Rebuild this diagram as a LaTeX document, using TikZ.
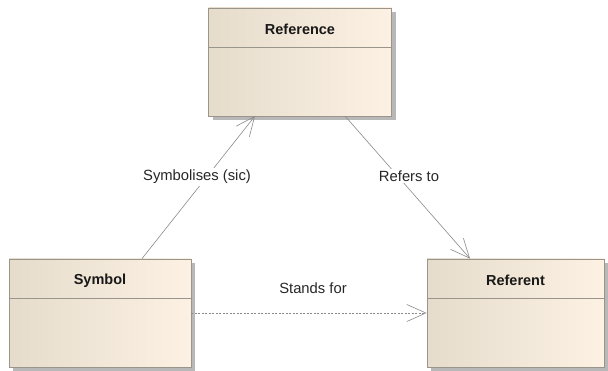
\documentclass[tikz,border=0pt]{standalone}
\usepackage{fontspec}
\setmainfont{Liberation Sans}
\usetikzlibrary{arrows.meta,shadows,calc}
\definecolor{boxleft}{HTML}{E6DCCC}
\definecolor{boxright}{HTML}{FCF1E2}
\definecolor{boxline}{HTML}{9A958C}
\definecolor{conn}{HTML}{8A8A8A}
\begin{document}
\begin{tikzpicture}[x=1pt,y=-1pt,
  classbox/.style={draw=boxline, line width=0.8pt, left color=boxleft, right color=boxright,
    minimum height=108pt, inner sep=0pt,
    drop shadow={shadow xshift=4pt, shadow yshift=-4pt, fill=black!28, opacity=1}},
  title/.style={font=\fontsize{14.5}{17}\selectfont\bfseries, text=black!90},
  lbl/.style={font=\fontsize{14.8}{17}\selectfont, fill=white, inner sep=2pt, text=black!85},
  conn/.style={draw=conn, line width=0.6pt, -{Straight Barb[length=19pt,width=17pt]}}]
\useasboundingbox (0,0) rectangle (608,371);
\node[classbox, minimum width=183pt] (ref) at (300,62) {};
\node[classbox, minimum width=182pt] (sym) at (100,313) {};
\node[classbox, minimum width=177pt] (rft) at (515.5,313) {};
\foreach \n/\t in {ref/Reference, sym/Symbol, rft/Referent}{
  \draw[boxline, line width=0.6pt] ($(\n.north west)+(0,40)$) -- ($(\n.north east)+(0,40)$);
  \node[title] (\n-t) at ($(\n.north)+(0,22)$) {\t};
}
\coordinate (symtop) at (142,259);
\coordinate (refbot) at (255,116);
\coordinate (refbot2) at (345,116);
\coordinate (rfttop) at (470,259);
\draw[conn] (sym.north -| symtop) -- (refbot);
\draw[conn] (refbot2) -- (rft.north -| rfttop);
\draw[conn, dashed, dash pattern=on 2pt off 1.5pt] (sym.east |- 0,313) -- (rft.west |- 0,313);
\node[lbl] (l1) at (197,177) {Symbolises (sic)};
\node[lbl] (l2) at (409,176) {Refers to};
\node[lbl, fill=none] (l3) at (313,288) {Stands for};
\end{tikzpicture}
\end{document}
